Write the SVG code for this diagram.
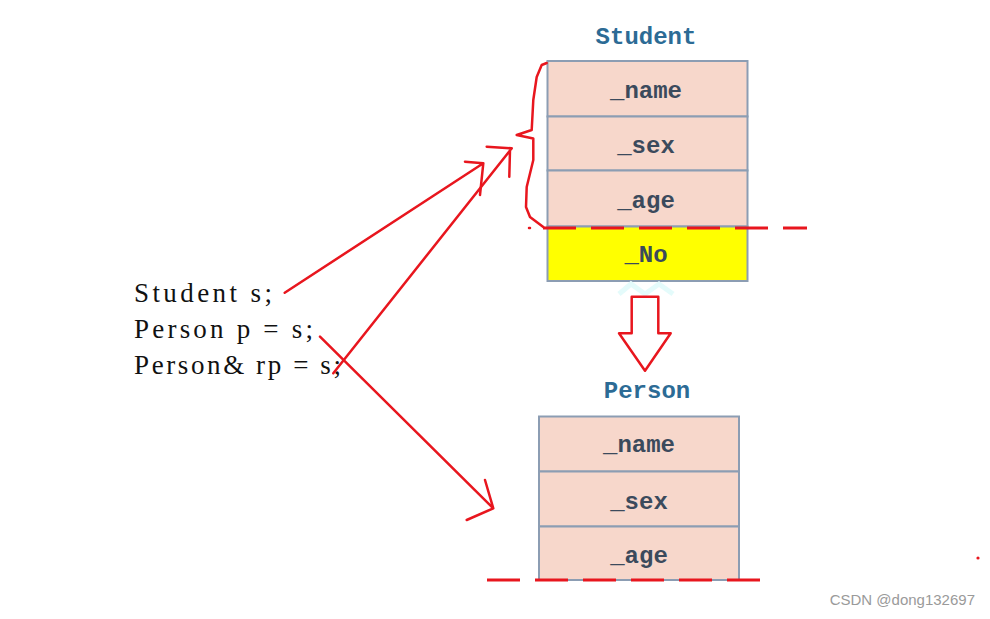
<svg xmlns="http://www.w3.org/2000/svg" width="990" height="619" viewBox="0 0 990 619">
<style>
.cell{fill:#f7d7cb;stroke:#8c9db3;stroke-width:2}
.yel{fill:#ffff00;stroke:#8c9db3;stroke-width:2}
.fld{font-family:"Liberation Mono",monospace;font-size:24px;font-weight:bold;fill:#3b4a5c;text-anchor:middle}
.ttl{font-family:"Liberation Mono",monospace;font-size:24px;font-weight:bold;fill:#2c6b95;text-anchor:middle}
.code{font-family:"Liberation Serif","DejaVu Serif",serif;font-size:27px;fill:#111}
.red{fill:none;stroke:#e8161e;stroke-width:2.5;stroke-linecap:round;stroke-linejoin:round}
.dash{fill:none;stroke:#e8161e;stroke-width:3;stroke-dasharray:33 15}
</style>
<rect width="990" height="619" fill="#ffffff"/>
<g id="student">
<text class="ttl" x="646" y="44">Student</text>
<rect class="cell" x="547.5" y="61" width="200" height="55.5"/>
<rect class="cell" x="547.5" y="116.5" width="200" height="54"/>
<rect class="cell" x="547.5" y="170.5" width="200" height="56"/>
<rect class="yel" x="547.5" y="226.5" width="200" height="54.5"/>
<text class="fld" x="646" y="98">_name</text>
<text class="fld" x="646" y="153">_sex</text>
<text class="fld" x="646" y="208">_age</text>
<text class="fld" x="646" y="262">_No</text>
</g>
<g id="person">
<text class="ttl" x="647" y="398">Person</text>
<rect class="cell" x="539" y="416.5" width="200" height="55"/>
<rect class="cell" x="539" y="471.5" width="200" height="55"/>
<rect class="cell" x="539" y="526.5" width="200" height="53.5"/>
<text class="fld" x="639" y="452">_name</text>
<text class="fld" x="639" y="509">_sex</text>
<text class="fld" x="639" y="563">_age</text>
</g>
<g id="code">
<text class="code" x="134" y="302" textLength="138" lengthAdjust="spacing">Student s;</text>
<text class="code" x="134" y="338" textLength="179" lengthAdjust="spacing">Person p = s;</text>
<text class="code" x="134" y="374" textLength="207" lengthAdjust="spacing">Person&amp; rp = s;</text>
</g>
<g id="decor">
<polyline points="619,294 631,284 645,294 659,284 673,294" fill="none" stroke="#e4fbfb" stroke-width="5"/>
<path class="dash" d="M543,228 H807"/>
<path class="dash" d="M487,580 H762"/>
<path class="red" d="M529,228 h1"/>
<circle cx="978" cy="558" r="1.6" fill="#e8161e"/>
<path class="red" d="M546.7,63 L541.7,65 L536.7,77 L533.3,100 L531.7,130 L516.7,135 L533.3,138.5 L533.3,160 L526.7,187 L526,207 L530,217 L543.3,227"/>
<path class="red" stroke-width="3" d="M631.7,296.7 H658.3 V333.3 H670.7 L645,370.7 L619,333.3 H631.7 Z"/>
</g>
<g id="connectors">
<path class="red" d="M284.7,292.7 L483.3,163.3 M465,161.7 L483.3,163.3 L480,195"/>
<path class="red" d="M333.3,373.3 L511.7,148.3 M486.7,146.7 L511.7,148.3 M510,150 L509.3,176.7"/>
<path class="red" d="M320,336.7 L493.3,508.3 M485,480 L493.3,508.3 L466.7,520"/>
</g>
<text x="975" y="605" font-family="Liberation Sans,Arial,sans-serif" font-size="15" fill="#9a9a9a" text-anchor="end">CSDN @dong132697</text>
</svg>
